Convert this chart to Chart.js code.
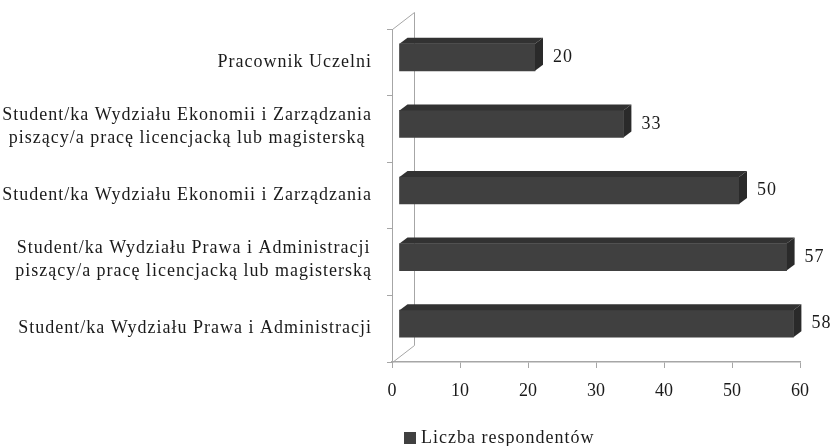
<!DOCTYPE html>
<html>
<head>
<meta charset="utf-8">
<script src="https://cdn.jsdelivr.net/npm/chart.js@4/dist/chart.umd.min.js"></script>
<style>
html,body{margin:0;padding:0;background:#fff;}
#wrap{width:837px;height:446px;}
</style>
</head>
<body>
<div id="wrap"><canvas id="c" width="837" height="446"></canvas></div>
<script>
const categories = [
  ["Pracownik Uczelni"],
  ["Student/ka Wydziału Ekonomii i Zarządzania", "piszący/a pracę licencjacką lub magisterską"],
  ["Student/ka Wydziału Ekonomii i Zarządzania"],
  ["Student/ka Wydziału Prawa i Administracji", "piszący/a pracę licencjacką lub magisterską"],
  ["Student/ka Wydziału Prawa i Administracji"]
];
const values = [20, 33, 50, 57, 58];
const seriesName = "Liczba respondentów";
const xTicks = [0, 10, 20, 30, 40, 50, 60];

const FONT = "'Liberation Serif', 'Times New Roman', serif";
const FRONT = {dx: 7, dy: -5};
const DEPTH = {dx: 8, dy: -6};
const WALL = {dx: 22, dy: -17};
const AXIS_COLOR = '#a6a6a6';

function setText(ctx) {
  ctx.font = '18px ' + FONT;
  ctx.fillStyle = '#1a1a1a';
  if ('letterSpacing' in ctx) ctx.letterSpacing = '1px';
}

const threeD = {
  id: 'threeD',
  beforeDatasetsDraw(chart) {
    const ctx = chart.ctx, a = chart.chartArea;
    ctx.save();
    ctx.strokeStyle = AXIS_COLOR;
    ctx.lineWidth = 1;
    ctx.beginPath();
    ctx.moveTo(a.left + 0.5, a.top + 0.5);
    ctx.lineTo(a.left + WALL.dx + 0.5, a.top + WALL.dy + 0.5);
    ctx.lineTo(a.left + WALL.dx + 0.5, a.bottom + WALL.dy + 0.5);
    ctx.lineTo(a.left + 0.5, a.bottom + 0.5);
    ctx.stroke();
    ctx.restore();
    ctx.save();
    ctx.translate(FRONT.dx, FRONT.dy);
  },
  afterDatasetsDraw(chart) {
    const ctx = chart.ctx;
    ctx.restore();
    const meta = chart.getDatasetMeta(0);
    ctx.save();
    meta.data.forEach((bar, i) => {
      const p = bar.getProps(['x', 'y', 'base', 'height'], true);
      const x0 = p.base + FRONT.dx, x1 = p.x + FRONT.dx;
      const top = p.y - p.height / 2 + FRONT.dy, bot = p.y + p.height / 2 + FRONT.dy;
      ctx.fillStyle = '#323232';
      ctx.beginPath();
      ctx.moveTo(x0, top);
      ctx.lineTo(x0 + DEPTH.dx, top + DEPTH.dy);
      ctx.lineTo(x1 + DEPTH.dx, top + DEPTH.dy);
      ctx.lineTo(x1, top);
      ctx.closePath();
      ctx.fill();
      ctx.fillStyle = '#2a2a2a';
      ctx.beginPath();
      ctx.moveTo(x1, top);
      ctx.lineTo(x1 + DEPTH.dx, top + DEPTH.dy);
      ctx.lineTo(x1 + DEPTH.dx, bot + DEPTH.dy);
      ctx.lineTo(x1, bot);
      ctx.closePath();
      ctx.fill();
      setText(ctx);
      ctx.textAlign = 'left';
      ctx.textBaseline = 'middle';
      ctx.fillText(String(values[i]), x1 + DEPTH.dx + 10, (top + bot) / 2);
    });
    ctx.restore();
  },
  afterDraw(chart) {
    const ctx = chart.ctx, ys = chart.scales.y, a = chart.chartArea;
    ctx.save();
    setText(ctx);
    ctx.textBaseline = 'middle';
    ctx.textAlign = 'left';
    const lh = 23;
    categories.forEach((lines, i) => {
      const cy = ys.getPixelForValue(i) - (lines.length > 1 ? 2 : 0);
      const widths = lines.map(l => ctx.measureText(l).width);
      const w = Math.max(...widths);
      const right = a.left - 20;
      lines.forEach((l, k) => {
        const x = right - w / 2 - widths[k] / 2;
        ctx.fillText(l, x, cy + (k - (lines.length - 1) / 2) * lh);
      });
    });
    // legend
    const lx = 404, ly = 438;
    ctx.fillStyle = '#404040';
    ctx.fillRect(lx, ly - 6, 12, 12);
    setText(ctx);
    ctx.fillText(seriesName, lx + 17, ly);
    ctx.restore();
  }
};

new Chart(document.getElementById('c'), {
  type: 'bar',
  data: {
    labels: categories,
    datasets: [{
      label: seriesName,
      data: values,
      backgroundColor: '#404040',
      borderWidth: 0,
      barThickness: 27
    }]
  },
  options: {
    indexAxis: 'y',
    responsive: false,
    animation: false,
    devicePixelRatio: 1,
    layout: {padding: {top: 29, right: 37, bottom: 44, left: 0}},
    plugins: {legend: {display: false}, tooltip: {enabled: false}},
    scales: {
      x: {
        min: 0, max: 60,
        afterBuildTicks(scale) { scale.ticks = xTicks.map(v => ({value: v})); },
        afterFit(scale) { scale.height = 40; },
        grid: {drawOnChartArea: false, drawTicks: true, tickLength: 6, color: AXIS_COLOR},
        border: {display: true, color: AXIS_COLOR, width: 1.5},
        ticks: {color: '#1a1a1a', padding: 12, font: {family: FONT, size: 18}, maxRotation: 0}
      },
      y: {
        afterFit(scale) { scale.width = 392; },
        grid: {drawOnChartArea: false, drawTicks: true, tickLength: 5, color: AXIS_COLOR, offset: true},
        border: {display: true, color: AXIS_COLOR},
        ticks: {display: true, color: 'rgba(0,0,0,0)', font: {family: FONT, size: 17}}
      }
    }
  },
  plugins: [threeD]
});
</script>
</body>
</html>
